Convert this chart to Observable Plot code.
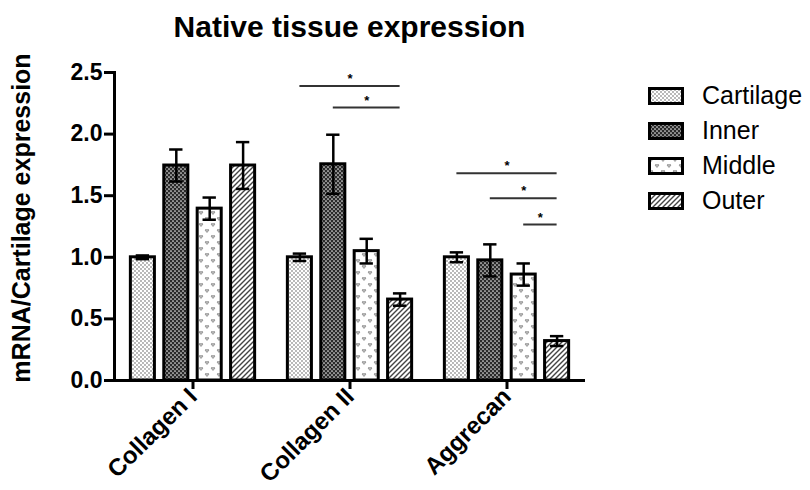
<!DOCTYPE html>
<html><head><meta charset="utf-8">
<script src="https://cdn.jsdelivr.net/npm/d3@7"></script>
<script src="https://cdn.jsdelivr.net/npm/@observablehq/plot@0.6"></script>
<style>
body{margin:0;background:#fff;font-family:"Liberation Sans",Arial,sans-serif;}
#wrap{position:relative;width:810px;height:490px;overflow:hidden;background:#fff;}
#chart{position:absolute;left:0;top:0;}
#title{position:absolute;left:114px;width:471px;top:12px;text-align:center;font-weight:bold;font-size:30px;line-height:30px;}
#ylabel{position:absolute;left:21px;top:218px;transform:translate(-50%,-50%) rotate(-90deg);white-space:nowrap;font-weight:bold;font-size:25px;line-height:25px;}
#legend{position:absolute;left:648px;top:78px;}
.item{display:flex;align-items:center;height:35px;font-size:25px;}
.item svg{margin-right:18px;}
</style></head><body>
<svg width="0" height="0" style="position:absolute">
<defs>
<pattern id="pat-cartilage" width="4" height="4" patternUnits="userSpaceOnUse">
<rect width="4" height="4" fill="#fff"/><circle cx="1" cy="1" r="0.9" fill="#999"/><circle cx="3" cy="3" r="0.9" fill="#999"/></pattern>
<pattern id="pat-inner" width="4" height="4" patternUnits="userSpaceOnUse">
<rect width="4" height="4" fill="#2a2a2a"/><circle cx="1" cy="1" r="0.85" fill="#e6e6e6"/><circle cx="3" cy="3" r="0.85" fill="#e6e6e6"/></pattern>
<pattern id="pat-middle" width="12" height="12" patternUnits="userSpaceOnUse">
<rect width="12" height="12" fill="#fff"/><path d="M1,2 q1,-1.2 2,0 q1,-1.2 2,0 l-2,2.5z M7,8 q1,-1.2 2,0 q1,-1.2 2,0 l-2,2.5z" stroke="#8a8a8a" fill="#bbb" stroke-width="0.8"/></pattern>
<pattern id="pat-outer" width="5" height="5" patternUnits="userSpaceOnUse">
<rect width="5" height="5" fill="#fff"/><path d="M-1,1 l2,-2 M0,5 l5,-5 M4,6 l2,-2" stroke="#444" stroke-width="1.4"/></pattern>
</defs></svg>
<div id="wrap"><div id="chart"></div><div id="title">Native tissue expression</div><div id="ylabel">mRNA/Cartilage expression</div><div id="legend"></div></div>
<script>
const groups = ["Collagen I", "Collagen II", "Aggrecan"];
const series = ["Cartilage", "Inner", "Middle", "Outer"];
const cartilageMean = [1.0, 1.0, 1.0];
const cartilageSem = [0.015, 0.03, 0.04];
const innerMean = [1.745, 1.755, 0.975];
const innerSem = [0.13, 0.24, 0.13];
const middleMean = [1.395, 1.05, 0.86];
const middleSem = [0.09, 0.1, 0.09];
const outerMean = [1.745, 0.657, 0.32];
const outerSem = [0.19, 0.05, 0.04];
const yTicks = [0, 0.5, 1.0, 1.5, 2.0, 2.5];
// significance brackets
const sigGroup = ["Collagen II", "Collagen II", "Aggrecan", "Aggrecan", "Aggrecan"];
const sigFrom = ["Cartilage", "Inner", "Cartilage", "Inner", "Middle"];
const sigTo = ["Outer", "Outer", "Outer", "Outer", "Outer"];
const sigY = [2.39, 2.215, 1.683, 1.48, 1.266];
const sigLabel = ["*", "*", "*", "*", "*"];

const means = {Cartilage: cartilageMean, Inner: innerMean, Middle: middleMean, Outer: outerMean};
const sems = {Cartilage: cartilageSem, Inner: innerSem, Middle: middleSem, Outer: outerSem};
const fillFor = s => `url(#pat-${s.toLowerCase()})`;
const rows = groups.flatMap((g, gi) => series.map((s, si) => ({group: g, series: s, idx: si, mean: means[s][gi], sem: sems[s][gi], fill: fillFor(s)})));
const sig = sigGroup.map((g, i) => ({group: g, i1: series.indexOf(sigFrom[i]), i2: series.indexOf(sigTo[i]), y: sigY[i], label: sigLabel[i]}));
const half = 0.36, cap = 0.2;

const chart = Plot.plot({
  width: 600, height: 490,
  marginTop: 72, marginBottom: 110, marginLeft: 114, marginRight: 15,
  style: {fontFamily: "Liberation Sans, Arial, sans-serif", background: "transparent", color: "black", overflow: "visible"},
  fx: {domain: groups, padding: 0, label: null},
  x: {domain: [-0.85, 3.85], axis: null},
  y: {domain: [0, 2.5], axis: null},
  color: {type: "identity"},
  marks: [
    Plot.rectY(rows, {fx: "group", x1: d => d.idx - half, x2: d => d.idx + half, y1: 0, y2: "mean", fill: "fill", stroke: "black", strokeWidth: 3}),
    Plot.ruleX(rows, {fx: "group", x: "idx", y1: d => d.mean - d.sem, y2: d => d.mean + d.sem, stroke: "black", strokeWidth: 2.5}),
    Plot.ruleY(rows, {fx: "group", x1: d => d.idx - cap, x2: d => d.idx + cap, y: d => d.mean + d.sem, stroke: "black", strokeWidth: 2.5}),
    Plot.ruleY(rows, {fx: "group", x1: d => d.idx - cap, x2: d => d.idx + cap, y: d => d.mean - d.sem, stroke: "black", strokeWidth: 2.5}),
    Plot.ruleY(sig, {fx: "group", x1: "i1", x2: "i2", y: "y", stroke: "#333", strokeWidth: 2}),
    Plot.text(sig, {fx: "group", x: d => (d.i1 + d.i2) / 2, y: "y", text: "label", dy: -7, fontSize: 13, fontWeight: "bold"}),
    Plot.ruleY([0], {stroke: "black", strokeWidth: 3}),
    Plot.frame({anchor: "left", facetAnchor: "left", stroke: "black", strokeWidth: 3}),
    Plot.axisY(yTicks, {tickFormat: d3.format(".1f"), tickSize: 10, tickPadding: 2, fontSize: 23, fontWeight: "bold", strokeWidth: 3, label: null}),
    Plot.axisFx({anchor: "bottom", tickSize: 9, strokeWidth: 3, tickRotate: -45, tickPadding: 3, fontSize: 24, fontWeight: "bold", label: null})
  ]
});
document.getElementById("chart").appendChild(chart);

const legend = document.getElementById("legend");
series.forEach(s => {
  const item = document.createElement("div");
  item.className = "item";
  item.innerHTML = `<svg width="36" height="18"><rect x="1.5" y="1.5" width="33" height="15" fill="${fillFor(s)}" stroke="black" stroke-width="3"/></svg><span>${s}</span>`;
  legend.appendChild(item);
});
</script>
</body></html>
